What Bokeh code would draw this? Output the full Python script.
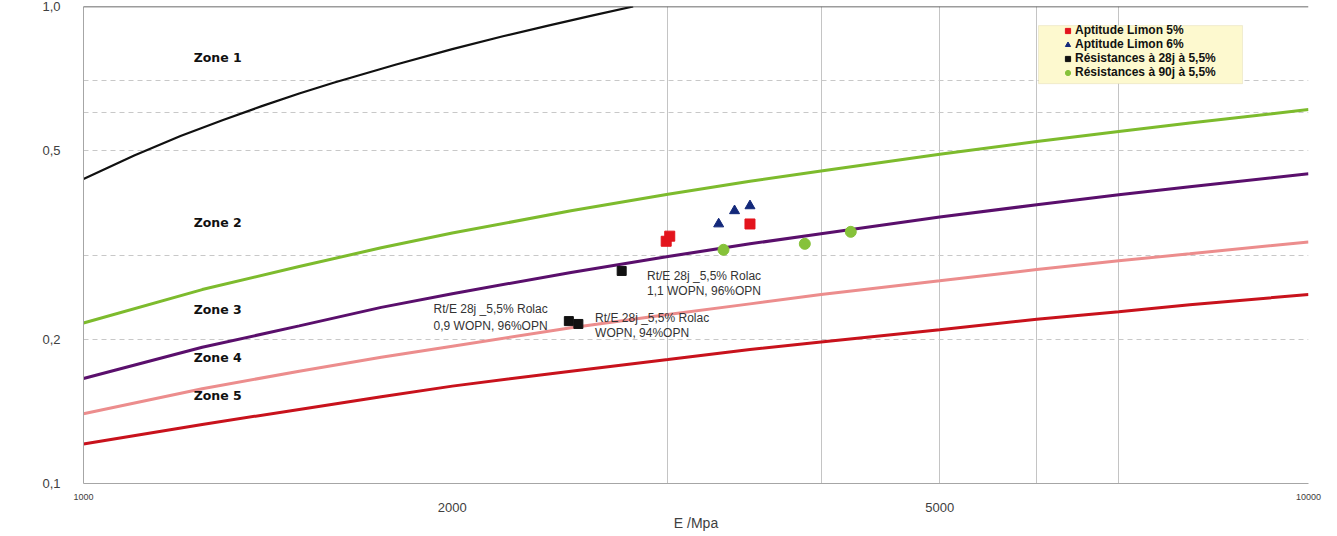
from bokeh.plotting import figure
from bokeh.models import (LogAxis, FixedTicker, CustomJSTickFormatter, Label, Span,
                          BoxAnnotation, ColumnDataSource)
from bokeh.core.properties import value
from bokeh.embed import file_html
from bokeh.resources import INLINE

# ---- boundary curves (E / MPa, Rt / MPa) ----
curve_E = [1000, 1250, 1500, 1750, 2000, 2500, 3000, 3500, 4000, 5000, 6000, 7000, 8000, 10000]
rt_green = [0.217, 0.255, 0.285, 0.312, 0.335, 0.373, 0.404, 0.430, 0.452, 0.490, 0.521, 0.547, 0.570, 0.608]
rt_purple = [0.166, 0.193, 0.214, 0.234, 0.250, 0.277, 0.299, 0.318, 0.334, 0.362, 0.384, 0.403, 0.419, 0.446]
rt_pink = [0.140, 0.158, 0.172, 0.184, 0.194, 0.212, 0.226, 0.238, 0.249, 0.266, 0.281, 0.293, 0.303, 0.321]
rt_red = [0.121, 0.133, 0.143, 0.152, 0.160, 0.172, 0.182, 0.191, 0.198, 0.210, 0.221, 0.229, 0.237, 0.249]
black_E = [1000, 1100, 1200, 1300, 1400, 1500, 1600, 1800, 2000, 2200, 2400, 2600, 2810]
rt_black = [0.435, 0.487, 0.535, 0.578, 0.619, 0.657, 0.692, 0.756, 0.814, 0.866, 0.913, 0.957, 1.0]

# ---- measured points ----
limon5_E = [2990, 3010, 3500]
limon5_rt = [0.322, 0.330, 0.350]
limon6_E = [3300, 3400, 3500]
limon6_rt = [0.350, 0.373, 0.382]
r28_E = [2750, 2490, 2535]
r28_rt = [0.279, 0.219, 0.216]
r90_E = [3330, 3880, 4230]
r90_rt = [0.309, 0.318, 0.337]

series_names = ["Aptitude Limon 5%", "Aptitude Limon 6%",
                "Résistances à 28j à 5,5%", "Résistances à 90j à 5,5%"]

# ---- text annotations ----
zone_labels = ["Zone 1", "Zone 2", "Zone 3", "Zone 4", "Zone 5"]
zone_E = [1230, 1230, 1230, 1230, 1230]
zone_rt = [0.781, 0.353, 0.232, 0.184, 0.153]

note_lines = ["Rt/E 28j _5,5% Rolac", "1,1 WOPN, 96%OPN",
              "Rt/E 28j _5,5% Rolac", "0,9 WOPN, 96%OPN",
              "Rt/E 28j _5,5% Rolac", "WOPN, 94%OPN"]
note_E = [2884, 2884, 1931, 1931, 2616, 2616]
note_rt = [0.272, 0.253, 0.232, 0.2138, 0.222, 0.2066]

y_ticks = [0.1, 0.2, 0.5, 1.0]
x_ticks_small = [1000, 10000]
x_ticks_big = [2000, 5000]
x_grid = [3000, 4000, 5000, 6000, 7000, 10000]
y_grid = [0.2, 0.3, 0.5, 0.6, 0.7]

FONT = "Liberation Sans"

p = figure(x_axis_type="log", y_axis_type="log", x_range=(1000, 10000), y_range=(0.1, 1.0),
           width=1336, height=535, min_border_left=83, min_border_right=28,
           min_border_top=6, min_border_bottom=52, title=None,
           output_backend="svg", toolbar_location=None,
           background_fill_color="white", border_fill_color="white",
           outline_line_color=None)

# grids
p.xgrid.ticker = FixedTicker(ticks=x_grid)
p.xgrid.grid_line_color = "#c4c4c4"
p.xgrid.grid_line_width = 1
p.ygrid.ticker = FixedTicker(ticks=y_grid)
p.ygrid.grid_line_color = "#c8c8c8"
p.ygrid.grid_line_dash = "5 4"
p.ygrid.grid_line_width = 1
p.add_layout(Span(location=1.0, dimension="width", line_color="#3a3a3a", line_width=1.5))

# y axis
ya = p.yaxis[0]
ya.ticker = FixedTicker(ticks=y_ticks)
ya.formatter = CustomJSTickFormatter(code="return tick.toFixed(1).replace('.', ',')")
ya.major_label_text_font = FONT
ya.major_label_text_font_size = "13px"
ya.major_label_text_color = "#404040"
ya.major_label_text_baseline = "top"
ya.major_label_standoff = 23
ya.major_tick_out = 0
ya.major_tick_in = 0
ya.minor_tick_out = 0
ya.minor_tick_in = 0
ya.axis_line_color = "#a6a6a6"

p.add_layout(Label(x=-61, y=238, x_units="screen", y_units="screen", text="RT /Mpa",
                   text_font=FONT, text_font_style="bold", text_font_size="12.5px",
                   text_color="#222222", text_align="left", text_baseline="middle"))

# x axes (staggered labels)
xa = p.xaxis[0]
xa.ticker = FixedTicker(ticks=x_ticks_small)
xa.formatter = CustomJSTickFormatter(code="return tick.toFixed(0)")
xa.major_label_text_font = FONT
xa.major_label_text_font_size = "9px"
xa.major_label_text_color = "#404040"
xa.major_label_standoff = 10
xa.major_tick_out = 0
xa.major_tick_in = 0
xa.minor_tick_out = 0
xa.minor_tick_in = 0
xa.axis_line_color = "#a6a6a6"

xb = LogAxis(ticker=FixedTicker(ticks=x_ticks_big),
             formatter=CustomJSTickFormatter(code="return tick.toFixed(0)"),
             axis_label="E /Mpa")
xb.major_label_text_font = FONT
xb.major_label_text_font_size = "13px"
xb.major_label_text_color = "#404040"
xb.major_label_standoff = 0
xb.major_tick_out = 0
xb.major_tick_in = 0
xb.minor_tick_out = 0
xb.minor_tick_in = 0
xb.axis_line_color = None
xb.axis_label_text_font = FONT
xb.axis_label_text_font_size = "14px"
xb.axis_label_text_font_style = "normal"
xb.axis_label_text_color = "#404040"
xb.axis_label_standoff = 0
p.add_layout(xb, "below")

# legend background box
p.add_layout(BoxAnnotation(left=6020, right=8834, top=0.912, bottom=0.689,
                           fill_color="#fdf9cf", fill_alpha=1.0,
                           line_color="#cfc7a0", line_width=1))

# curves
p.line(black_E, rt_black, line_color="#111111", line_width=2.2)
p.line(curve_E, rt_green, line_color="#7dbb2d", line_width=3)
p.line(curve_E, rt_purple, line_color="#5a0f6c", line_width=3)
p.line(curve_E, rt_pink, line_color="#ec8d8d", line_width=3)
p.line(curve_E, rt_red, line_color="#c8121c", line_width=3)

# points
p.scatter(limon5_E, limon5_rt, marker="square", size=10, fill_color="#e3141d",
          line_color="#e3141d", legend_label=series_names[0])
p.scatter(limon6_E, limon6_rt, marker="triangle", size=10, fill_color="#13287a",
          line_color="#13287a", legend_label=series_names[1])
p.scatter(r28_E, r28_rt, marker="square", size=9, fill_color="#111111",
          line_color="#111111", legend_label=series_names[2])
p.scatter(r90_E, r90_rt, marker="circle", size=11, fill_color="#86c23a",
          line_color="#86c23a", legend_label=series_names[3])

# zone labels
zsrc = ColumnDataSource(dict(x=zone_E, y=zone_rt, t=zone_labels))
p.text("x", "y", text="t", source=zsrc, text_font=value("DejaVu Sans"),
       text_font_style="bold", text_font_size="12.5px", text_color="#111111",
       text_align="left", text_baseline="middle")

# notes
nsrc = ColumnDataSource(dict(x=note_E, y=note_rt, t=note_lines))
p.text("x", "y", text="t", source=nsrc, text_font=value(FONT),
       text_font_size="12px", text_color="#333333",
       text_align="left", text_baseline="middle")

leg = p.legend[0]
leg.location = (978, 404)
leg.label_text_font = FONT
leg.label_text_font_style = "bold"
leg.label_text_font_size = "12px"
leg.label_text_color = "#111111"
leg.glyph_width = 13
leg.glyph_height = 13
leg.label_height = 13
leg.spacing = 0
leg.padding = 0
leg.margin = 0
leg.label_standoff = 1
leg.background_fill_alpha = 0
leg.border_line_alpha = 0

open("out.html", "w").write(file_html(p, INLINE))
